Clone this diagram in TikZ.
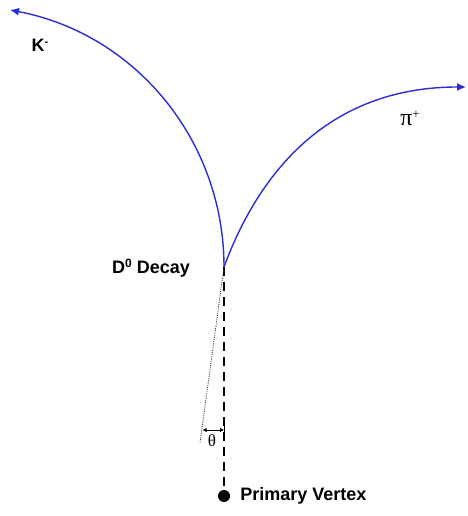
\documentclass[tikz,border=0pt]{standalone}
\usepackage{fontspec}
\setmainfont{Liberation Sans}
\newfontfamily\symfont{Liberation Serif}
\usepackage{tikz}
\usetikzlibrary{arrows.meta, calc}
\definecolor{trackblue}{RGB}{45, 45, 215}

\begin{document}
\begin{tikzpicture}[x=1pt, y=1pt,
		track/.style={draw=trackblue, line width=1.4pt, -{Latex[length=9pt, width=8pt]}},
		label/.style={font=\fontsize{18}{21}\selectfont\bfseries, inner sep=0pt},
		flight/.style={line width=1.8pt, dash pattern=on 9pt off 6pt},
		guide/.style={line width=0.8pt, draw=black!80, dash pattern=on 1pt off 1.2pt},
		vertex/.style={circle, fill=black, minimum size=12pt, inner sep=0pt}
	]
	\useasboundingbox (0,0) rectangle (467,516);
	
	% Decay point and vertex
	\coordinate (decay) at (224,249);
	\node[vertex] (pv) at (224,20) {};
	\coordinate (kend) at (10,506);
	\coordinate (piend) at (466,429);
	\coordinate (dotend) at (200,73);
	\coordinate (thl) at (202.5,86);
	\coordinate (thr) at (224,86);
	
	% Labels
	\node[label] (klab) at (40,471) {K\raisebox{6pt}{\fontsize{11}{12}\selectfont -}};
	\node[inner sep=0pt, font=\fontsize{24}{26}\selectfont\symfont] (pilab) at (410,398) {π\raisebox{7pt}{\fontsize{13}{14}\selectfont +}};
	\node[label, anchor=east] (dlab) at (190,248) {D\raisebox{6pt}{\fontsize{12}{13}\selectfont 0} Decay};
	\node[label, anchor=west] (pvlab) at ([xshift=10pt]pv.east) {Primary Vertex};
	\node[font=\fontsize{17}{19}\selectfont\symfont, inner sep=0pt] (thlab) at (212,75) {θ};
	
	% Flight path and angle
	\draw[flight] (decay) -- (pv.center);
	\draw[guide] (decay) -- (dotend);
	\draw[line width=0.9pt, {Latex[length=4pt, width=4.5pt]}-{Latex[length=4pt, width=4.5pt]}] (thl) -- (thr);
	\draw[line width=1pt] ([yshift=-5pt]thr) -- ([yshift=5pt]thr);
	
	% Daughter tracks
	\draw[track] (decay) .. controls (224,375) and (136,482) .. (kend);
	\draw[track] (decay) .. controls (262,352) and (335,429) .. (piend);
\end{tikzpicture}
\end{document}
